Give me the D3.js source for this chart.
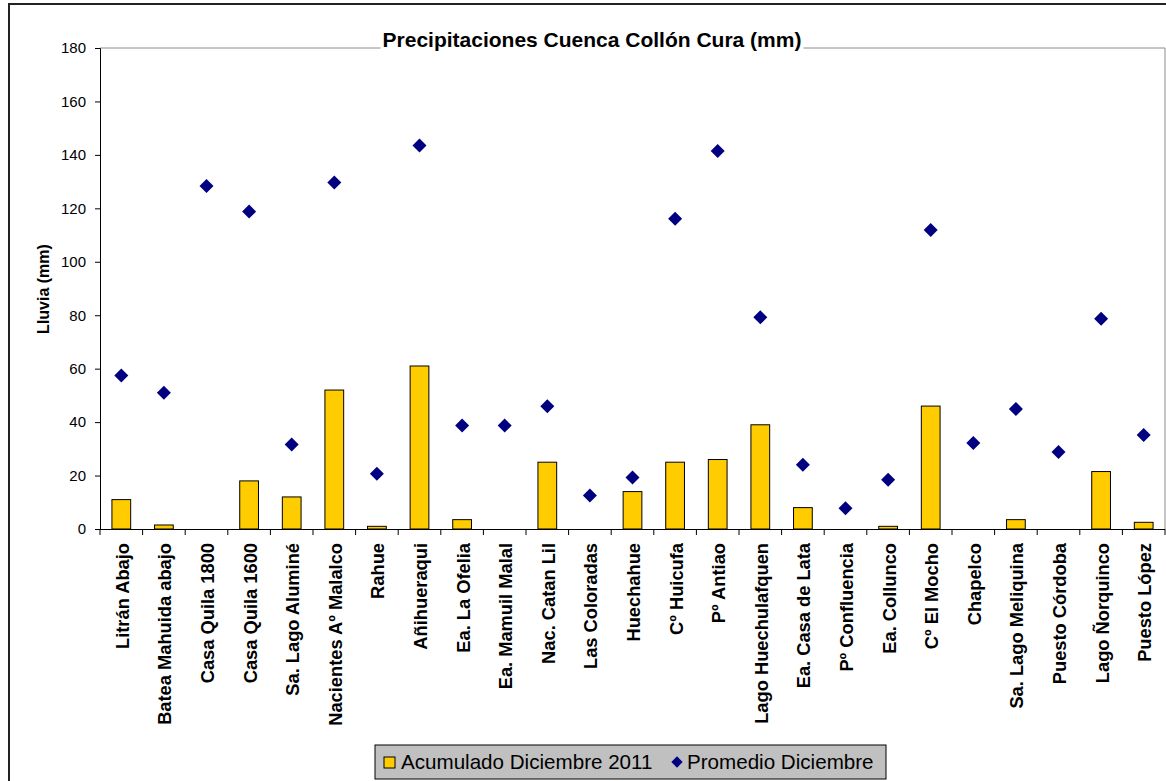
<!DOCTYPE html>
<html>
<head>
<meta charset="utf-8">
<script src="https://cdn.jsdelivr.net/npm/d3@7"></script>
<style>
  html, body { margin: 0; padding: 0; background: #fff; }
  svg { display: block; }
  text { font-family: "Liberation Sans", Arial, sans-serif; }
</style>
</head>
<body>
<svg id="chart" width="1166" height="781"></svg>
<script>
const categories = ["Litrán Abajo","Batea Mahuida abajo","Casa Quila 1800","Casa Quila 1600","Sa. Lago Aluminé","Nacientes Aº Malalco","Rahue","Añihueraqui","Ea. La Ofelia","Ea. Mamuil Malal","Nac. Catan Lil","Las Coloradas","Huechahue","Cº Huicufa","Pº Antiao","Lago Huechulafquen","Ea. Casa de Lata","Pº Confluencia","Ea. Collunco","Cº El Mocho","Chapelco","Sa. Lago Meliquina","Puesto Córdoba","Lago Ñorquinco","Puesto López"];
const acumulado = [11,1.5,0,18,12,52,1,61,3.5,0,25,0,14,25,26,39,8,0,1,46,0,3.5,0,21.5,2.5];
const promedio = [57.4,51,128.4,118.8,31.6,129.7,20.7,143.5,38.7,38.7,45.9,12.5,19.3,116.1,141.5,79.2,24,7.8,18.4,111.9,32.2,44.9,28.8,78.7,35.2];
const yTicks = [0,20,40,60,80,100,120,140,160,180];
const seriesNames = ["Acumulado Diciembre 2011","Promedio Diciembre"];
const titleText = "Precipitaciones Cuenca Collón Cura (mm)";
const yLabel = "Lluvia (mm)";

const svg = d3.select("#chart");
const L = 100, R = 1165, T = 48, B = 529;

// outer chart border
svg.append("rect").attr("x",9).attr("y",4).attr("width",1170).attr("height",790)
  .attr("fill","none").attr("stroke","#222").attr("stroke-width",2);

const x = d3.scaleBand().domain(categories).range([L,R]).paddingInner(0.56).paddingOuter(0.28);
const xb = d3.scaleBand().domain(categories).range([L,R]);
const y = d3.scaleLinear().domain([0,180]).range([B,T]);

// plot area border (top/right gray)
svg.append("path").attr("d",`M${L},${T}H${R}V${B}`).attr("fill","none").attr("stroke","#8c8c8c").attr("stroke-width",1);

// bars
svg.append("g").selectAll("rect").data(acumulado).join("rect")
  .attr("x",(d,i)=>x(categories[i]))
  .attr("y",d=>y(d))
  .attr("width",x.bandwidth())
  .attr("height",d=>B-y(d))
  .attr("fill","#FFCC00").attr("stroke","#000").attr("stroke-width",1)
  .attr("display",d=>d>0?null:"none");

// y axis
const yAxis = d3.axisLeft(y).tickValues(yTicks).tickSize(5).tickPadding(9);
const gy = svg.append("g").attr("transform",`translate(${L},0)`).call(yAxis);
gy.select(".domain").attr("stroke","#000");
gy.selectAll(".tick line").attr("stroke","#000");
gy.selectAll(".tick text").attr("font-size",15).attr("fill","#000").attr("font-family","Liberation Sans, Arial, sans-serif");

// x axis
const gx = svg.append("g").attr("transform",`translate(0,${B})`)
  .call(d3.axisBottom(xb).tickSize(0).tickFormat(""));
gx.select(".domain").attr("stroke","#000").attr("d",`M${L},0.5H${R}`);
// tick marks at category boundaries
const bounds = categories.map(c=>xb(c)).concat([R]);
gx.selectAll(".bt").data(bounds).join("line").attr("class","bt")
  .attr("x1",d=>d).attr("x2",d=>d).attr("y1",0).attr("y2",6).attr("stroke","#000");
// category labels
gx.selectAll(".cl").data(categories).join("text").attr("class","cl")
  .attr("transform",d=>`translate(${xb(d)+xb.bandwidth()/2+1},14) rotate(-90)`)
  .attr("text-anchor","end").attr("dy","0.35em")
  .attr("font-size",18.3).attr("font-weight","bold").attr("fill","#000")
  .text(d=>d);

// diamonds
const diamond = d3.symbol().type(d3.symbolSquare).size(98);
svg.append("g").selectAll("path").data(promedio).join("path")
  .attr("d",diamond)
  .attr("transform",(d,i)=>`translate(${xb(categories[i])+xb.bandwidth()/2},${y(d)}) rotate(45)`)
  .attr("fill","#000080");

// title with white background
const tg = svg.append("g");
const tt = tg.append("text").attr("x",592).attr("y",47).attr("text-anchor","middle")
  .attr("font-size",21).attr("font-weight","bold").attr("fill","#000").text(titleText);
const bb = tt.node().getBBox();
tg.insert("rect","text").attr("x",bb.x-2).attr("y",bb.y).attr("width",bb.width+4).attr("height",bb.height).attr("fill","#fff");

// y label
svg.append("text").attr("transform","translate(43,289) rotate(-90)")
  .attr("text-anchor","middle").attr("dy","0.35em")
  .attr("font-size",16).attr("font-weight","bold").attr("fill","#000").text(yLabel);

// legend
const lg = svg.append("g");
lg.append("rect").attr("x",375).attr("y",745).attr("width",511).attr("height",34)
  .attr("fill","#C0C0C0").attr("stroke","#000").attr("stroke-width",1);
lg.append("rect").attr("x",384).attr("y",757).attr("width",11).attr("height",11)
  .attr("fill","#FFCC00").attr("stroke","#000");
lg.append("text").attr("x",401).attr("y",762).attr("dy","0.35em").attr("font-size",20.6).attr("fill","#000").text(seriesNames[0]);
lg.append("path").attr("d",d3.symbol().type(d3.symbolSquare).size(64)).attr("transform","translate(677,762) rotate(45)").attr("fill","#000080");
lg.append("text").attr("x",687).attr("y",762).attr("dy","0.35em").attr("font-size",20.6).attr("fill","#000").text(seriesNames[1]);
</script>
</body>
</html>
